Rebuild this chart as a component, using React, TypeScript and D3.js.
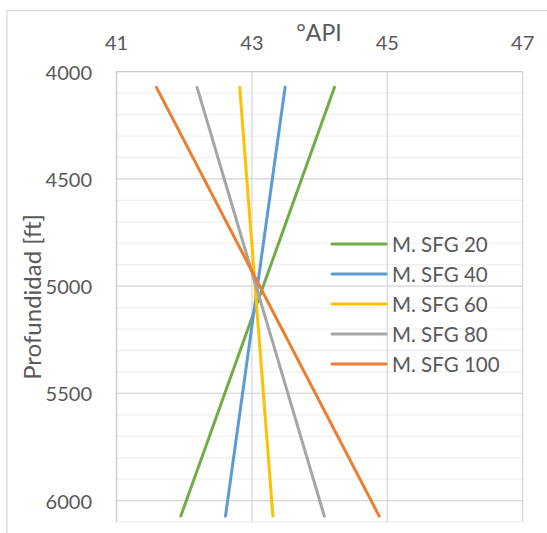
import React from "react";
import * as d3 from "d3";

const seriesNames = ["M. SFG 20", "M. SFG 40", "M. SFG 60", "M. SFG 80", "M. SFG 100"];
const seriesColors = ["#70AD47", "#5B9BD5", "#FFC000", "#A5A5A5", "#ED7D31"];
const depthTop = 4073;
const depthBottom = 6072;
const apiTop = [44.22, 43.49, 42.82, 42.19, 41.59];
const apiBottom = [41.95, 42.61, 43.31, 44.07, 44.88];
const xTicks = [41, 43, 45, 47];
const yTicks = [4000, 4500, 5000, 5500, 6000];
const yMinor = d3.range(4100, 6101, 100);

const W = 547, H = 533;
const left = 116.5, right = 522.7, top = 71.7, bottom = 522.1;
const font = "Lato, 'Open Sans', sans-serif";
const textColor = "#595959";

export default function App() {
  const x = d3.scaleLinear().domain([41, 47]).range([left, right]);
  const y = d3.scaleLinear().domain([4000, 6100]).range([top, bottom]);
  const line = d3.line<[number, number]>().x(d => x(d[0])).y(d => y(d[1]));
  return (
    <svg width={W} height={H} style={{ position: "absolute", left: 0, top: 0, background: "#fff" }}>
      <rect x={7} y={10.5} width={W} height={H} fill="#fff" stroke="#d9d9d9" strokeWidth={1.3} />
      {yMinor.map(v => (
        <line key={"m" + v} x1={left} x2={right} y1={y(v)} y2={y(v)} stroke="#f0f0f0" strokeWidth={1.3} />
      ))}
      {yTicks.slice(1).map(v => (
        <line key={"g" + v} x1={left} x2={right} y1={y(v)} y2={y(v)} stroke="#d9d9d9" strokeWidth={1.3} />
      ))}
      {xTicks.slice(1).map(v => (
        <line key={"v" + v} x1={x(v)} x2={x(v)} y1={top} y2={bottom} stroke="#d9d9d9" strokeWidth={1.3} />
      ))}
      <line x1={left} x2={right} y1={top} y2={top} stroke="#c8c8c8" strokeWidth={1.3} />
      <line x1={left} x2={left} y1={top} y2={bottom} stroke="#c8c8c8" strokeWidth={1.3} />
      {seriesNames.map((n, i) => (
        <path
          key={n}
          d={line([[apiTop[i], depthTop], [apiBottom[i], depthBottom]]) || ""}
          stroke={seriesColors[i]}
          strokeWidth={3}
          strokeLinecap="round"
          fill="none"
        />
      ))}
      {xTicks.map(v => (
        <text key={"xt" + v} x={x(v)} y={41.5} textAnchor="middle" dominantBaseline="central"
          fontFamily={font} fontSize={20} fill={textColor}>{v}</text>
      ))}
      {yTicks.map(v => (
        <text key={"yt" + v} x={92} y={y(v)} textAnchor="end" dominantBaseline="central"
          fontFamily={font} fontSize={20} fill={textColor}>{v}</text>
      ))}
      <text x={319} y={32} textAnchor="middle" dominantBaseline="central" fontFamily={font} fontSize={23} fill={textColor}>°API</text>
      <text transform={`translate(31,297) rotate(-90)`} textAnchor="middle" dominantBaseline="central"
        fontFamily={font} fontSize={24} fill={textColor}>Profundidad [ft]</text>
      {seriesNames.map((n, i) => (
        <g key={"l" + n} transform={`translate(0,${244 + i * 30})`}>
          <line x1={332} x2={386} y1={0} y2={0} stroke={seriesColors[i]} strokeWidth={3} strokeLinecap="round" />
          <text x={392} y={0} dominantBaseline="central" fontFamily={font} fontSize={20.5} fill={textColor}>{n}</text>
        </g>
      ))}
    </svg>
  );
}
